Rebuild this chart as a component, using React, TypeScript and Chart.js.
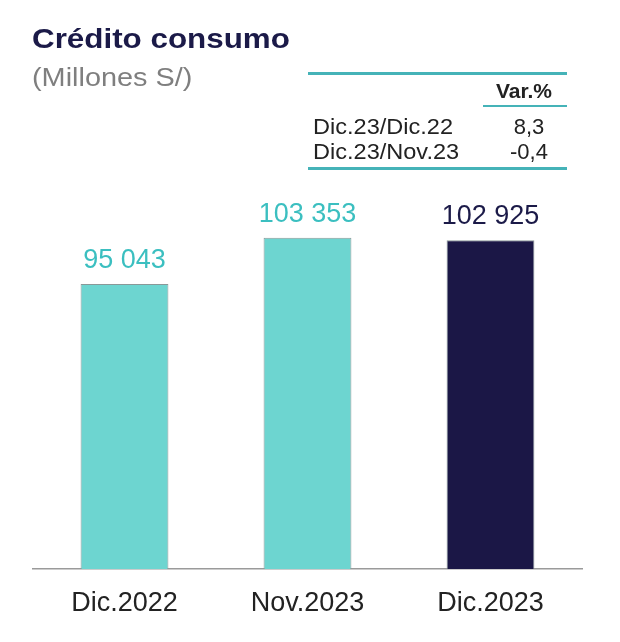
import React, { useEffect, useRef } from "react";
import { Chart, registerables } from "chart.js";

Chart.register(...registerables);

const title = "Crédito consumo";
const subtitle = "(Millones S/)";
const categories = ["Dic.2022", "Nov.2023", "Dic.2023"];
const values = [95043, 103353, 102925];
const varHeader = "Var.%";
const varLabels = ["Dic.23/Dic.22", "Dic.23/Nov.23"];
const varValues = ["8,3", "-0,4"];

const TEAL = "#6dd5d0";
const NAVY = "#1b1746";
const TEAL_TEXT = "#3bbfc0";
const NAVY_TEXT = "#1b1a48";
const LINE_TEAL = "#45b3b8";
const FONT = "'Liberation Sans', Arial, sans-serif";

const barColors = [TEAL, TEAL, NAVY];
const labelColors = [TEAL_TEXT, TEAL_TEXT, NAVY_TEXT];

const fmt = (v: number) => String(v).replace(/\B(?=(\d{3})+(?!\d))/g, " ");

const valueLabels = {
  id: "valueLabels",
  afterDatasetsDraw(chart: any) {
    const ctx = chart.ctx;
    const meta = chart.getDatasetMeta(0);
    ctx.save();
    ctx.font = `27px ${FONT}`;
    ctx.textAlign = "center";
    ctx.textBaseline = "alphabetic";
    meta.data.forEach((bar: any, i: number) => {
      ctx.fillStyle = labelColors[i];
      ctx.fillText(fmt(values[i]), bar.x, bar.y - 16);
    });
    ctx.restore();
  },
};

export default function App() {
  const ref = useRef<HTMLCanvasElement | null>(null);
  useEffect(() => {
    if (!ref.current) return;
    const chart = new Chart(ref.current, {
      type: "bar",
      data: {
        labels: categories,
        datasets: [
          {
            data: values,
            backgroundColor: barColors,
            borderColor: "#8a9898",
            borderWidth: 1,
            barPercentage: 0.48,
            categoryPercentage: 1,
          },
        ],
      },
      options: {
        animation: false,
        responsive: true,
        maintainAspectRatio: false,
        layout: { padding: { left: 33, right: 38, top: 201, bottom: 0 } },
        plugins: { legend: { display: false }, tooltip: { enabled: false }, title: { display: false } },
        scales: {
          y: { display: false, min: 43600, max: 110000 },
          x: {
            grid: { display: false, drawTicks: false },
            border: { display: true, color: "#9a9a9a", width: 1.5 },
            ticks: { color: "#222", font: { family: FONT, size: 27 }, padding: 18 },
            afterFit: (s: any) => {
              s.height = 73;
            },
          },
        },
      },
      plugins: [valueLabels],
    });
    return () => chart.destroy();
  }, []);

  const abs = (extra: React.CSSProperties): React.CSSProperties => ({
    position: "absolute",
    lineHeight: 1,
    whiteSpace: "nowrap",
    fontFamily: FONT,
    transformOrigin: "left center",
    ...extra,
  });

  return (
    <div style={{ position: "absolute", left: 0, top: 0, width: 620, height: 642, background: "#fff" }}>
      <canvas ref={ref} style={{ position: "absolute", left: 0, top: 0 }} />
      <div style={abs({ left: 32, top: 25, fontSize: 28, fontWeight: "bold", color: NAVY_TEXT, transform: "scaleX(1.12)" })}>{title}</div>
      <div style={abs({ left: 32, top: 64, fontSize: 26, color: "#7f7f7f", transform: "scaleX(1.11)" })}>{subtitle}</div>
      <div style={abs({ left: 308, top: 72, width: 259, height: 2.5, background: LINE_TEAL })} />
      <div style={abs({ left: 481, top: 80, width: 86, textAlign: "center", fontSize: 21, fontWeight: "bold", color: "#222" })}>{varHeader}</div>
      <div style={abs({ left: 483, top: 105, width: 84, height: 2, background: LINE_TEAL })} />
      {varLabels.map((l, i) => (
        <React.Fragment key={l}>
          <div style={abs({ left: 313, top: 116 + i * 25, fontSize: 22, color: "#222", transform: "scaleX(1.07)" })}>{l}</div>
          <div style={abs({ left: 489, top: 116 + i * 25, width: 80, textAlign: "center", fontSize: 22, color: "#222" })}>{varValues[i]}</div>
        </React.Fragment>
      ))}
      <div style={abs({ left: 308, top: 167, width: 259, height: 3, background: LINE_TEAL })} />
    </div>
  );
}
